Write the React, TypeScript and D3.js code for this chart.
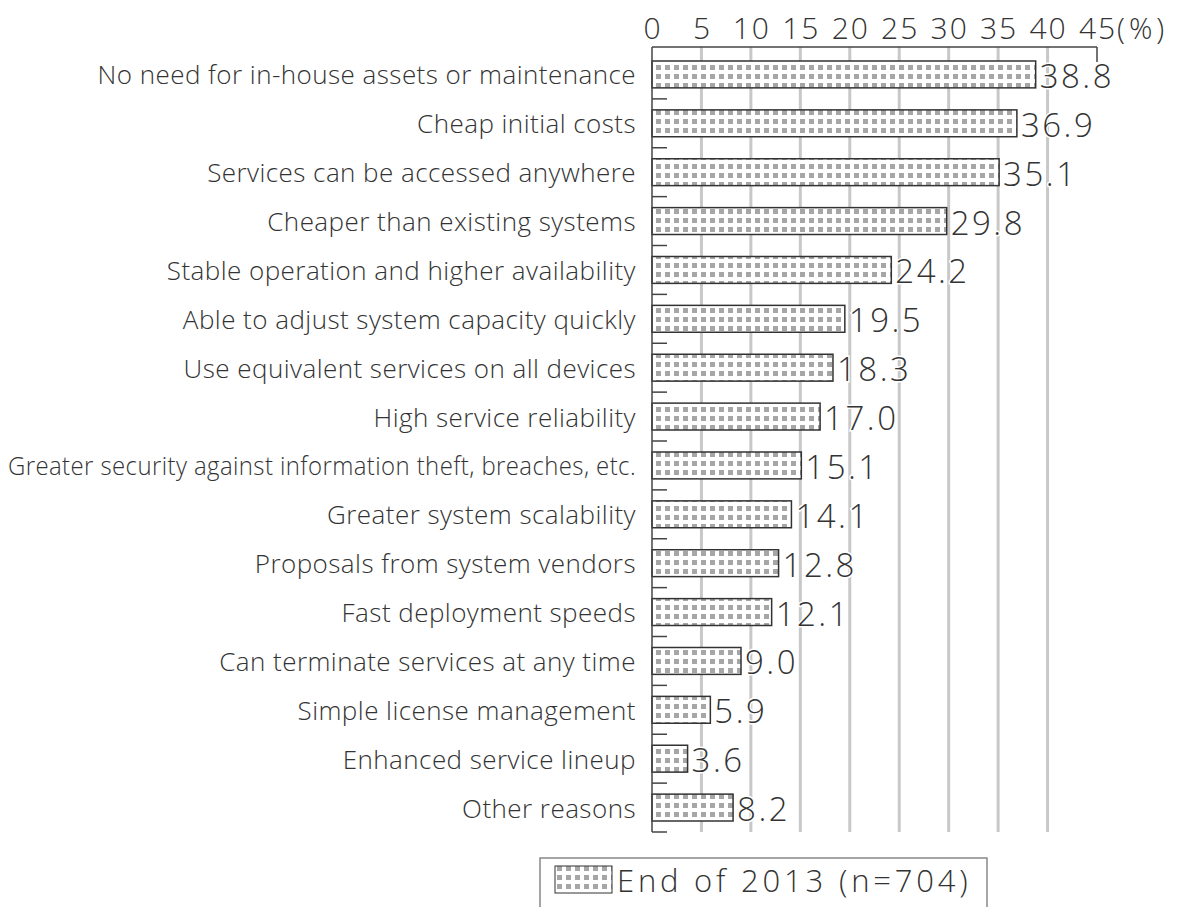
import React, { useLayoutEffect, useRef } from "react";
import * as d3 from "d3";

const categories = [
  "No need for in-house assets or maintenance",
  "Cheap initial costs",
  "Services can be accessed anywhere",
  "Cheaper than existing systems",
  "Stable operation and higher availability",
  "Able to adjust system capacity quickly",
  "Use equivalent services on all devices",
  "High service reliability",
  "Greater security against information theft, breaches, etc.",
  "Greater system scalability",
  "Proposals from system vendors",
  "Fast deployment speeds",
  "Can terminate services at any time",
  "Simple license management",
  "Enhanced service lineup",
  "Other reasons",
];
const values = [38.8, 36.9, 35.1, 29.8, 24.2, 19.5, 18.3, 17.0, 15.1, 14.1, 12.8, 12.1, 9.0, 5.9, 3.6, 8.2];
const tickValues = [0, 5, 10, 15, 20, 25, 30, 35, 40, 45];
const seriesName = "End of 2013 (n=704)";

const W = 1189;
const H = 907;
const FONT = "'Open Sans', 'Noto Sans', sans-serif";
const LABEL_RIGHT = 636;
const LABEL_MAX_W = 628;

export default function App() {
  const labelsRef = useRef<SVGGElement | null>(null);
  const x = d3.scaleLinear().domain([0, 45]).range([652, 1097]);
  const y = d3.scaleBand().domain(categories).range([50, 832]).paddingInner(0.45).paddingOuter(0.225);
  const bandStep = y.step();
  const axisTop = 47;
  const axisBottom = 832;

  useLayoutEffect(() => {
    if (!labelsRef.current) return;
    d3.select(labelsRef.current)
      .selectAll<SVGTextElement, unknown>("text")
      .each(function () {
        const w = this.getComputedTextLength();
        if (w > LABEL_MAX_W) {
          this.setAttribute("textLength", String(LABEL_MAX_W));
          this.setAttribute("lengthAdjust", "spacingAndGlyphs");
        }
      });
  }, []);

  return (
    <svg width={W} height={H} style={{ position: "absolute", left: 0, top: 0, background: "#fff" }} fontFamily={FONT}>
      <defs>
        <pattern id="dots" width={9} height={9} patternUnits="userSpaceOnUse" x={654} y={0}>
          <rect width={9} height={9} fill="#fff" />
          <rect x={2} y={2} width={5} height={5} fill="#a6a6a6" />
        </pattern>
      </defs>
      {tickValues.slice(1, -1).map((t) => (
        <line key={t} x1={x(t)} x2={x(t)} y1={axisTop} y2={axisBottom} stroke="#c8c8c8" strokeWidth={3} />
      ))}
      <line x1={x(0)} x2={x(45)} y1={axisTop} y2={axisTop} stroke="#444" strokeWidth={1.5} />
      <line x1={x(45)} x2={x(45)} y1={axisTop} y2={axisTop + 15} stroke="#444" strokeWidth={1.5} />
      {tickValues.map((t) => (
        <text key={t} x={x(t) + 1} y={27} textAnchor="middle" dominantBaseline="central" fontSize={30} letterSpacing={2} fill="#333" fontWeight={300}>
          {t}
        </text>
      ))}
      <text x={x(45) + 20} y={27} dominantBaseline="central" fontSize={29} letterSpacing={4} fill="#333" fontWeight={300}>
        (%)
      </text>
      {categories.map((c, i) => {
        const v = values[i];
        const by = y(c)!;
        return (
          <g key={c}>
            <rect x={x(0)} y={by} width={x(v) - x(0)} height={y.bandwidth()} fill="url(#dots)" stroke="#333" strokeWidth={1.5} />
            <text
              x={x(v) + 4}
              y={by + y.bandwidth() / 2 + 1}
              dominantBaseline="central"
              fontSize={33}
              letterSpacing={2.5}
              fill="#333"
              fontWeight={300}
              stroke="#fff"
              strokeWidth={3}
              paintOrder="stroke"
            >
              {v.toFixed(1)}
            </text>
          </g>
        );
      })}
      <g ref={labelsRef}>
        {categories.map((c) => (
          <text
            key={c}
            x={LABEL_RIGHT}
            y={y(c)! + y.bandwidth() / 2}
            textAnchor="end"
            dominantBaseline="central"
            fontSize={26}
            letterSpacing={0.45}
            fill="#333"
            fontWeight={300}
          >
            {c}
          </text>
        ))}
      </g>
      <line x1={x(0)} x2={x(0)} y1={axisTop} y2={axisBottom} stroke="#444" strokeWidth={1.5} />
      {categories.map((c, i) => (
        <line key={c} x1={x(0)} x2={x(0) + 15} y1={50 + (i + 1) * bandStep} y2={50 + (i + 1) * bandStep} stroke="#444" strokeWidth={1.5} />
      ))}
      <rect x={540} y={858} width={447} height={60} fill="#fff" stroke="#888" strokeWidth={1.5} />
      <rect x={555} y={866} width={57} height={27} fill="url(#dots)" stroke="#333" strokeWidth={1} />
      <text x={617} y={880} dominantBaseline="central" fontSize={31} letterSpacing={3.8} fill="#333" fontWeight={300}>
        {seriesName}
      </text>
    </svg>
  );
}
